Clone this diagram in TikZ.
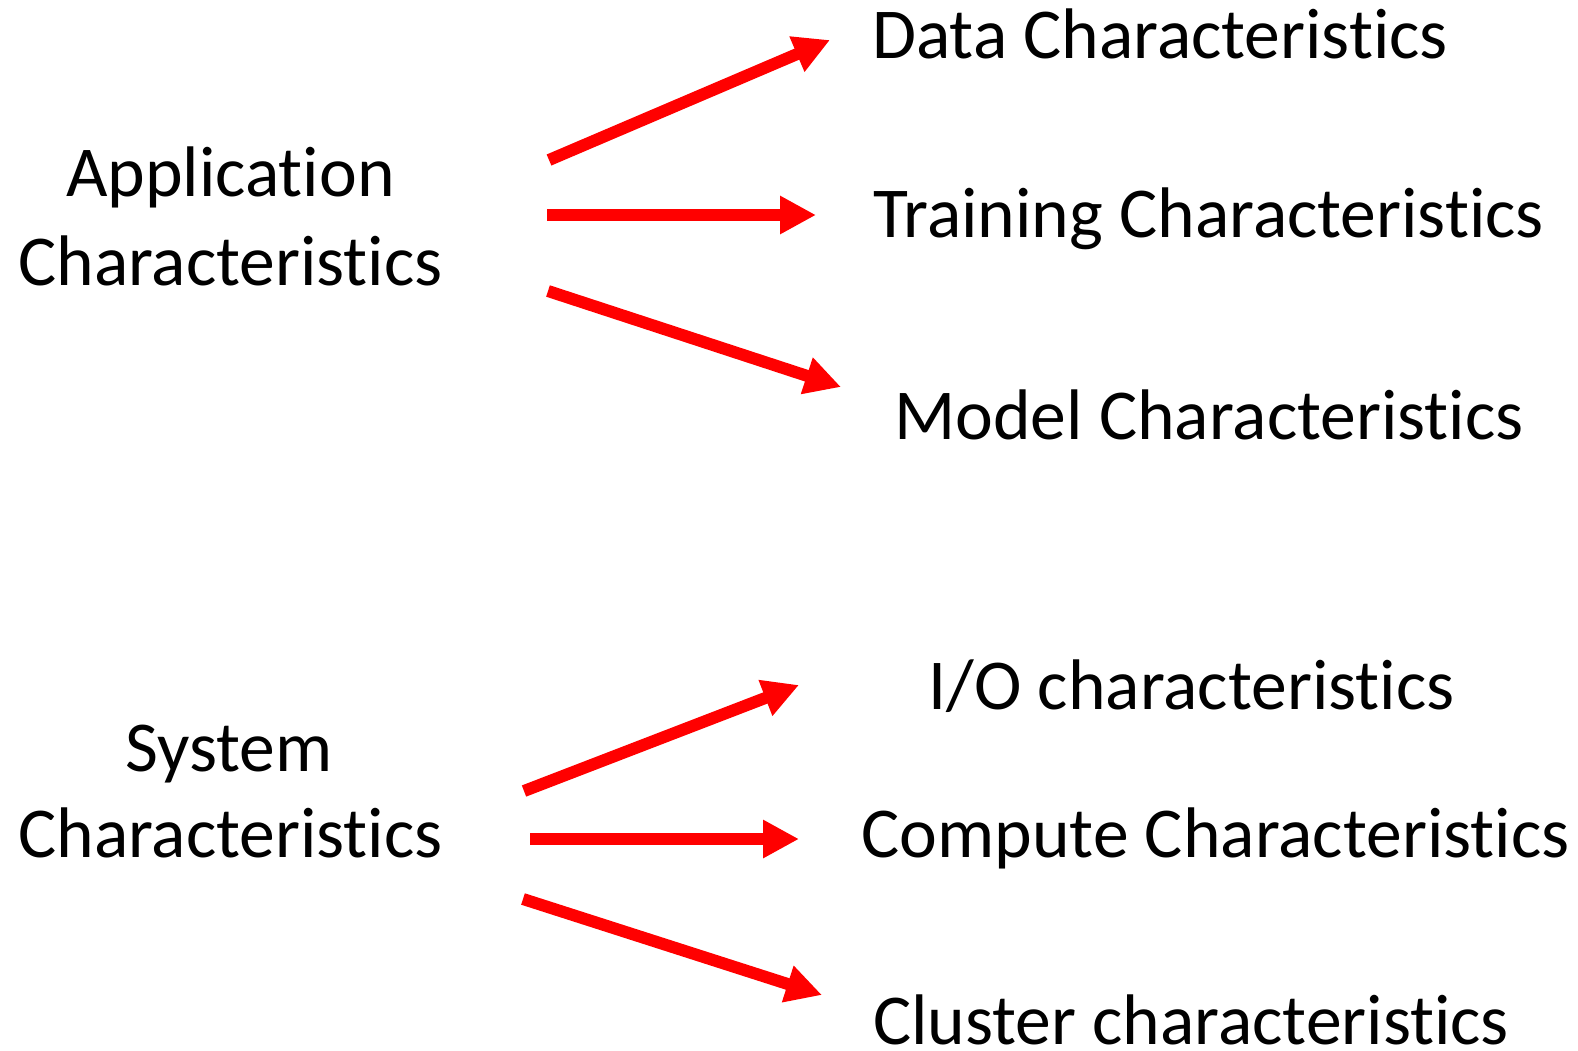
\documentclass[tikz,border=0pt]{standalone}
\usepackage{fontspec}
\setmainfont{Carlito}[RawFeature={-liga;-clig;-calt;-dlig}]
\usetikzlibrary{arrows.meta}
\tikzset{
  lbl/.style={inner sep=0pt, anchor=base, font=\fontsize{71.6}{89}\selectfont},
  redarrow/.style={draw=red, line width=12pt, -{Triangle[width=36pt,length=36pt]}}
}
\begin{document}
\begin{tikzpicture}[x=1pt,y=-1pt]
  \useasboundingbox (0,0) rectangle (1578,1050);

  % source groups
  \node[lbl] (app1) at (230.5,196) {Application};
  \node[lbl] (app2) at (230.5,285) {Characteristics};
  \node[lbl] (sys1) at (229,771) {System};
  \node[lbl] (sys2) at (230.5,857) {Characteristics};

  % targets
  \node[lbl] (data)    at (1160,58)    {Data Characteristics};
  \node[lbl] (train)   at (1208.5,237) {Training Characteristics};
  \node[lbl] (model)   at (1209,439)   {Model Characteristics};
  \node[lbl] (io)      at (1191.5,709) {I/O characteristics};
  \node[lbl] (compute) at (1215.5,857) {Compute Characteristics};
  \node[lbl] (cluster) at (1191,1044)  {Cluster characteristics};

  % arrow end points
  \coordinate (a1s) at (549,160);  \coordinate (a1e) at (830,40);
  \coordinate (a2s) at (547,215);  \coordinate (a2e) at (816,215);
  \coordinate (a3s) at (548,291);  \coordinate (a3e) at (841,387);
  \coordinate (b1s) at (524,791);  \coordinate (b1e) at (799,685);
  \coordinate (b2s) at (530,839);  \coordinate (b2e) at (799,839);
  \coordinate (b3s) at (523,899);  \coordinate (b3e) at (822,995);

  \draw[redarrow] (a1s) -- (a1e);
  \draw[redarrow] (a2s) -- (a2e);
  \draw[redarrow] (a3s) -- (a3e);
  \draw[redarrow] (b1s) -- (b1e);
  \draw[redarrow] (b2s) -- (b2e);
  \draw[redarrow] (b3s) -- (b3e);
\end{tikzpicture}
\end{document}
